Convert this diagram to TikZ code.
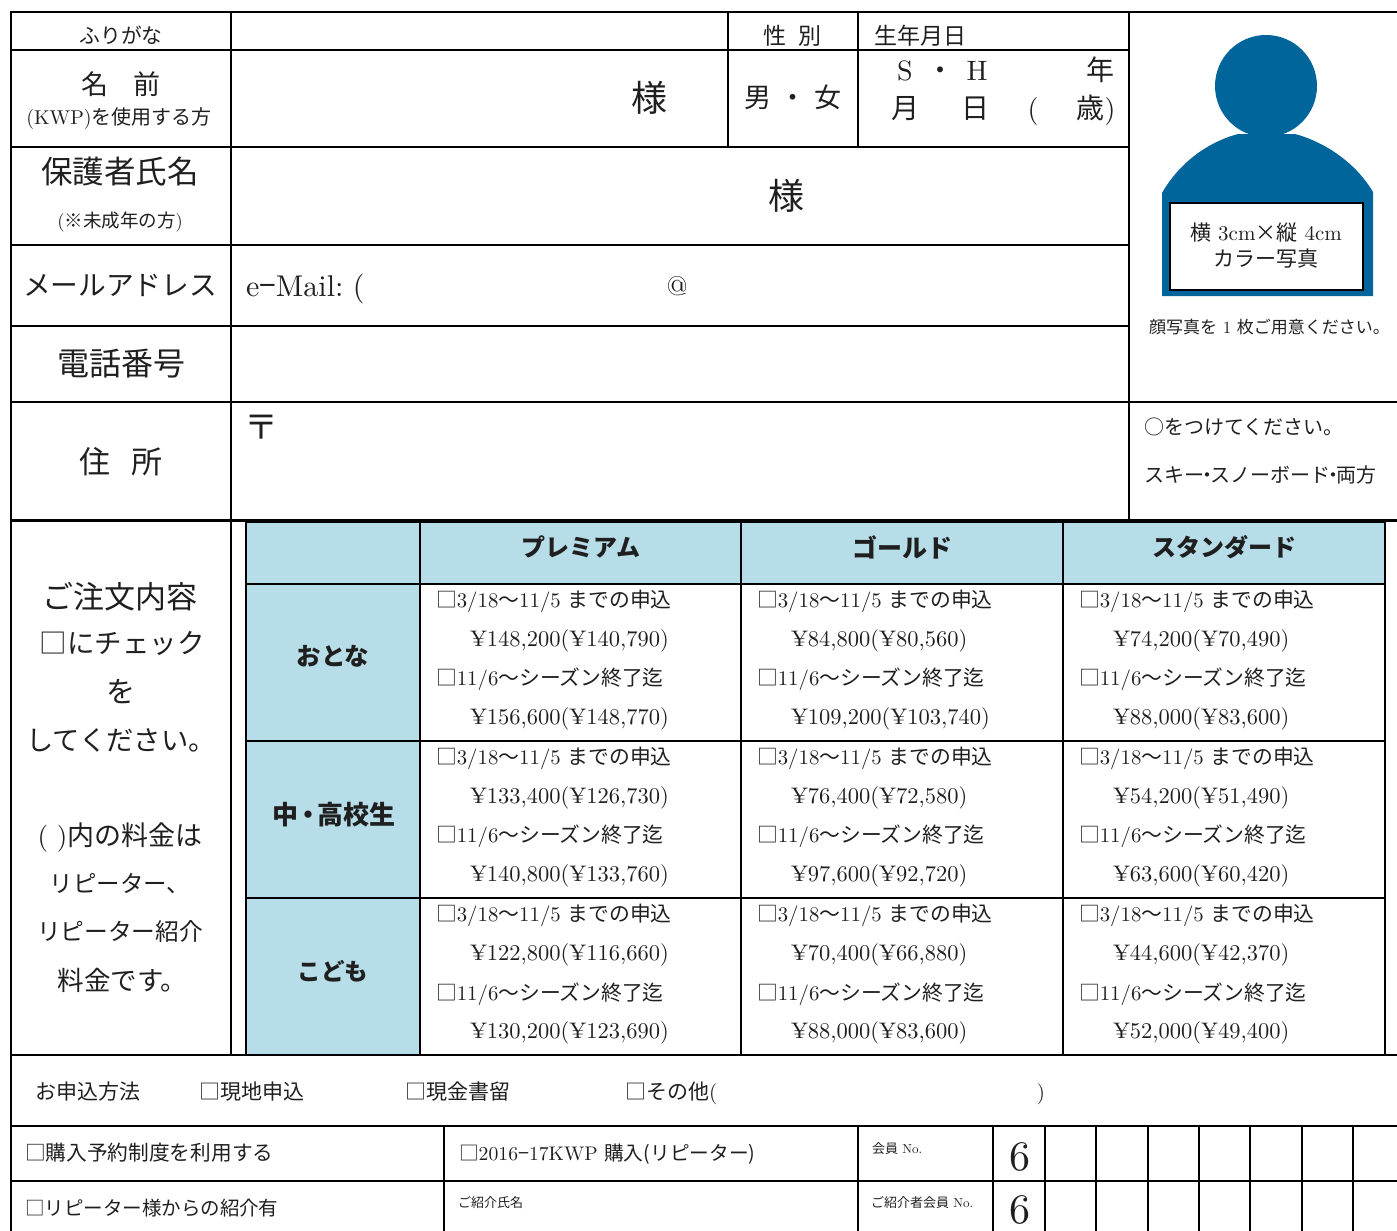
\documentclass[tikz,border=0pt]{standalone}
\usepackage{fontspec}
\setmainfont{lmroman10-regular}[Extension=.otf,BoldFont=lmroman10-bold]
\newfontfamily\jp{Noto Sans CJK JP}
\newcommand\J[1]{{\jp #1}}
\newcommand\fs[1]{\fontsize{#1}{#1}\selectfont}
\definecolor{cellblue}{HTML}{B7DDE8}
\definecolor{avatar}{HTML}{00659A}
\tikzset{tx/.style={inner sep=0pt,outer sep=0pt,text=black!88},
  rule/.style={line width=2.2pt,black,line cap=rect}}
\newcommand\T[6][center]{\node[tx,anchor=#1,font=\fs{#5},text height={#5*.86pt},text depth={#5*.14pt}] (#2) at (#3,#4) {#6};}
\newcommand\Cell[5]{%
 \T[west]{#1a}{#2-1}{#3+.5}{20.8}{\J{□}3/18\J{〜}11/5 \J{までの申込}}
 \T[west]{#1b}{#2+33}{#3+38.5}{22.5}{#4}
 \T[west]{#1c}{#2-1}{#3+78.5}{20.8}{\J{□}11/6\J{〜シーズン終了迄}}
 \T[west]{#1d}{#2+33}{#3+116.5}{22.5}{#5}}
\begin{document}
\begin{tikzpicture}[x=1pt,y=-1pt]
\useasboundingbox (0,0) rectangle (1397,1231);
% table fills
\fill[cellblue] (246,522) rectangle (1385,584);
\fill[cellblue] (246,584) rectangle (420,1055);
% avatar
\fill[avatar] (1266,86) circle (51);
\fill[avatar] (1162,296) -- (1162,193) .. controls (1178,165) and (1205,143) .. (1238,134) -- (1295,134) .. controls (1328,143) and (1357,165) .. (1373,192) -- (1373,296) -- cycle;
\draw[fill=white,line width=2pt] (1170,203) rectangle (1363,290);
% outer form grid
\draw[rule] (11,12) -- (1397,12);
\draw[rule] (11,12) -- (11,1231);
\draw[rule] (231,12) -- (231,1055);
\draw[rule] (1129,12) -- (1129,520);
\draw[rule] (728,12) -- (728,147);
\draw[rule] (858,12) -- (858,147);
\draw[rule] (11,50) -- (1129,50);
\draw[rule] (11,147) -- (1129,147);
\draw[rule] (11,245) -- (1129,245);
\draw[rule] (11,326) -- (1129,326);
\draw[rule] (11,402) -- (1397,402);
\draw[rule] (11,520.5) -- (1397,520.5);
% price table
\draw[rule,line width=2.4pt] (246,522) -- (1385,522);
\draw[rule] (246,584) -- (1385,584);
\draw[rule] (246,741) -- (1385,741);
\draw[rule] (246,898) -- (1385,898);
\draw[rule] (246,522) -- (246,1055);
\draw[rule] (420,522) -- (420,1055);
\draw[rule] (741,522) -- (741,1055);
\draw[rule] (1063,522) -- (1063,1055);
\draw[rule] (1385,522) -- (1385,1055);
\draw[rule,line width=2.6pt] (11,1055) -- (1397,1055);
\draw[rule] (11,1126) -- (1397,1126);
\draw[rule] (11,1181) -- (1397,1181);
\foreach \vx in {444,858,993,1045,1096,1148,1199,1250,1302,1353}
  \draw[rule] (\vx,1126) -- (\vx,1231);
% left labels
\T{fu}{121}{36}{20.8}{\J{ふりがな}}
\T{na}{121}{85}{27}{\J{名\hspace{.9em}前}}
\T{kwp}{119}{117}{20}{(KWP)\J{を使用する方}}
\T{ho}{120}{172}{31.5}{\J{保護者氏名}}
\T{mi}{120}{221}{18.5}{(\J{※未成年の方})}
\T{ma}{120}{286}{27.7}{\J{メールアドレス}}
\T{de}{121}{364}{32}{\J{電話番号}}
\T{ju}{121}{462}{31}{\J{住\hspace{.65em}所}}
% top row
\T{sei}{775}{36}{23}{\J{性}}
\T{bet}{810}{36}{23}{\J{別}}
\T{seinen}{920}{36}{23}{\J{生年月日}}
\T{sama}{649}{99}{36}{\J{様}}
\T{otoko}{758}{98}{27}{\J{男}}
\T{nakag}{793}{98}{27}{\J{・}}
\T{onna}{828}{98}{27}{\J{女}}
\T{ds}{905}{70}{28}{S}
\T{dn}{940}{70}{28}{\J{・}}
\T{dh}{977}{70}{28}{H}
\T{dy}{1100}{70}{28}{\J{年}}
\T{dm}{905}{108}{28}{\J{月}}
\T{dd}{975}{108}{28}{\J{日}}
\T{dp}{1033}{108}{28}{(}
\T{da}{1096}{108}{28}{\J{歳})}
\T{sama2}{786}{197}{36}{\J{様}}
\T[west]{em}{246}{286}{30}{e\J{−}Mail:\hspace{-.13em} (}
\T{at}{677}{286}{27}{@}
\T{post}{261}{427}{34}{\J{〒}}
% photo notes
\T{ph1}{1266}{233}{21}{\J{横} 3cm\J{×縦} 4cm}
\T{ph2}{1266}{259}{21}{\J{カラー写真}}
\T{ph3}{1269.5}{327}{17}{\J{顔写真を} 1 \J{枚ご用意ください。}}
\T[west]{mk}{1144}{427}{20}{\J{○をつけてください。}}
\T[west]{sk}{1144}{475}{20}{\J{スキー\hspace{-.35em}・\hspace{-.35em}スノーボード\hspace{-.35em}・\hspace{-.35em}両方}}
% order column
\T{o1}{120}{597}{31}{\J{ご注文内容}}
\T{o2}{122}{644}{27.5}{\J{□にチェック}}
\T{o3}{121}{692}{29}{\J{を}}
\T{o4}{121}{741}{27.3}{\J{してください。}}
\T{o5}{120}{836}{27}{( )\J{内の料金は}}
\T{o6}{120}{884}{23.5}{\J{リピーター、}}
\T{o7}{120}{932}{23.7}{\J{リピーター紹介}}
\T{o8}{122.5}{981}{26.5}{\J{料金です。}}
% table headings
\T{h1}{581}{548}{24}{\bfseries\J{プレミアム}}
\T{h2}{902}{548}{25}{\bfseries\J{ゴールド}}
\T{h3}{1224}{548}{24}{\bfseries\J{スタンダード}}
\T{r1}{333}{657}{24.5}{\bfseries\J{おとな}}
\T{r2}{334}{815}{26}{\bfseries\J{中\hspace{-.15em}・\hspace{-.15em}高校生}}
\T{r3}{333}{972}{23.5}{\bfseries\J{こども}}
% price cells
\Cell{p1}{437}{600}{¥148,200(¥140,790)}{¥156,600(¥148,770)}
\Cell{g1}{758}{600}{¥84,800(¥80,560)}{¥109,200(¥103,740)}
\Cell{s1}{1080}{600}{¥74,200(¥70,490)}{¥88,000(¥83,600)}
\Cell{p2}{437}{757}{¥133,400(¥126,730)}{¥140,800(¥133,760)}
\Cell{g2}{758}{757}{¥76,400(¥72,580)}{¥97,600(¥92,720)}
\Cell{s2}{1080}{757}{¥54,200(¥51,490)}{¥63,600(¥60,420)}
\Cell{p3}{437}{914}{¥122,800(¥116,660)}{¥130,200(¥123,690)}
\Cell{g3}{758}{914}{¥70,400(¥66,880)}{¥88,000(¥83,600)}
\Cell{s3}{1080}{914}{¥44,600(¥42,370)}{¥52,000(¥49,400)}
% bottom rows
\T[west]{b1}{35.5}{1091.5}{21}{\J{お申込方法}}
\T[west]{b2}{199}{1091.5}{21}{\J{□現地申込}}
\T[west]{b3}{405}{1091.5}{21}{\J{□現金書留}}
\T[west]{b4}{625}{1091.5}{21}{\J{□その他}(}
\T{b5}{1041}{1091.5}{21}{)}
\T[west]{c1}{25}{1153.5}{20.7}{\J{□購入予約制度を利用する}}
\T[west]{c2}{459}{1153.5}{19.7}{\J{□}2016\J{−}17KWP \J{購入(リピーター)}}
\T[west]{c3}{872}{1149}{13}{\J{会員} No.}
\T{c4}{1020}{1155}{42}{6}
\T[west]{d1}{25}{1208.5}{19.5}{\J{□リピーター様からの紹介有}}
\T[west]{d2}{458}{1203}{13}{\J{ご紹介氏名}}
\T[west]{d3}{871}{1203}{13}{\J{ご紹介者会員} No.}
\T{d4}{1020}{1208}{42}{6}
\end{tikzpicture}
\end{document}
